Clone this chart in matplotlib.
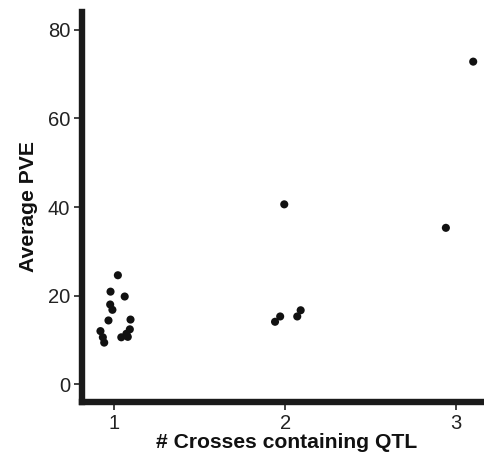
import matplotlib
matplotlib.use("Agg")
import matplotlib.pyplot as plt

plt.rcParams['font.family'] = ['Liberation Sans', 'DejaVu Sans']

# Data (jittered x positions, average PVE)
crosses = [1.02, 0.977, 1.06, 0.975, 0.988, 0.965, 1.094, 0.918, 0.932, 0.94,
           1.04, 1.07, 1.09, 1.078,
           1.994, 1.94, 1.97, 2.07, 2.09,
           3.10, 2.94]
pve = [24.6, 20.9, 19.8, 18.0, 16.8, 14.4, 14.6, 12.0, 10.6, 9.4,
       10.6, 11.4, 12.4, 10.7,
       40.6, 14.1, 15.3, 15.3, 16.7,
       72.8, 35.3]

xticks = [1, 2, 3]
yticks = [0, 20, 40, 60, 80]

W, H = 485, 454
fig = plt.figure(figsize=(W / 100, H / 100), dpi=100)
ax = fig.add_axes([82 / W, 1 - 402 / H, (492 - 82) / W, (402 - 12) / H])

ax.scatter(crosses, pve, s=34, color='#111111', edgecolors='none', zorder=3)

ax.set_xlim(0.81, 3.21)
ax.set_ylim(-4, 84)
ax.set_xticks(xticks)
ax.set_xticklabels([str(t) for t in xticks])
ax.set_yticks(yticks)
ax.set_yticklabels([str(t) for t in yticks])

for side in ['top', 'right']:
    ax.spines[side].set_visible(False)
for side in ['left', 'bottom']:
    ax.spines[side].set_linewidth(4.6)
    ax.spines[side].set_color('#1a1a1a')
    ax.spines[side].set_capstyle('projecting')

ax.tick_params(axis='both', length=5.5, width=1.3, color='#333333',
               labelsize=14.5, labelcolor='#222222', pad=3)

ax.set_xlabel('# Crosses containing QTL', fontsize=15.2, fontweight='bold',
              color='#111111', labelpad=0)
ax.set_ylabel('Average PVE', fontsize=15.2, fontweight='bold',
              color='#111111', labelpad=7)

fig.savefig('out.png', dpi=100)
